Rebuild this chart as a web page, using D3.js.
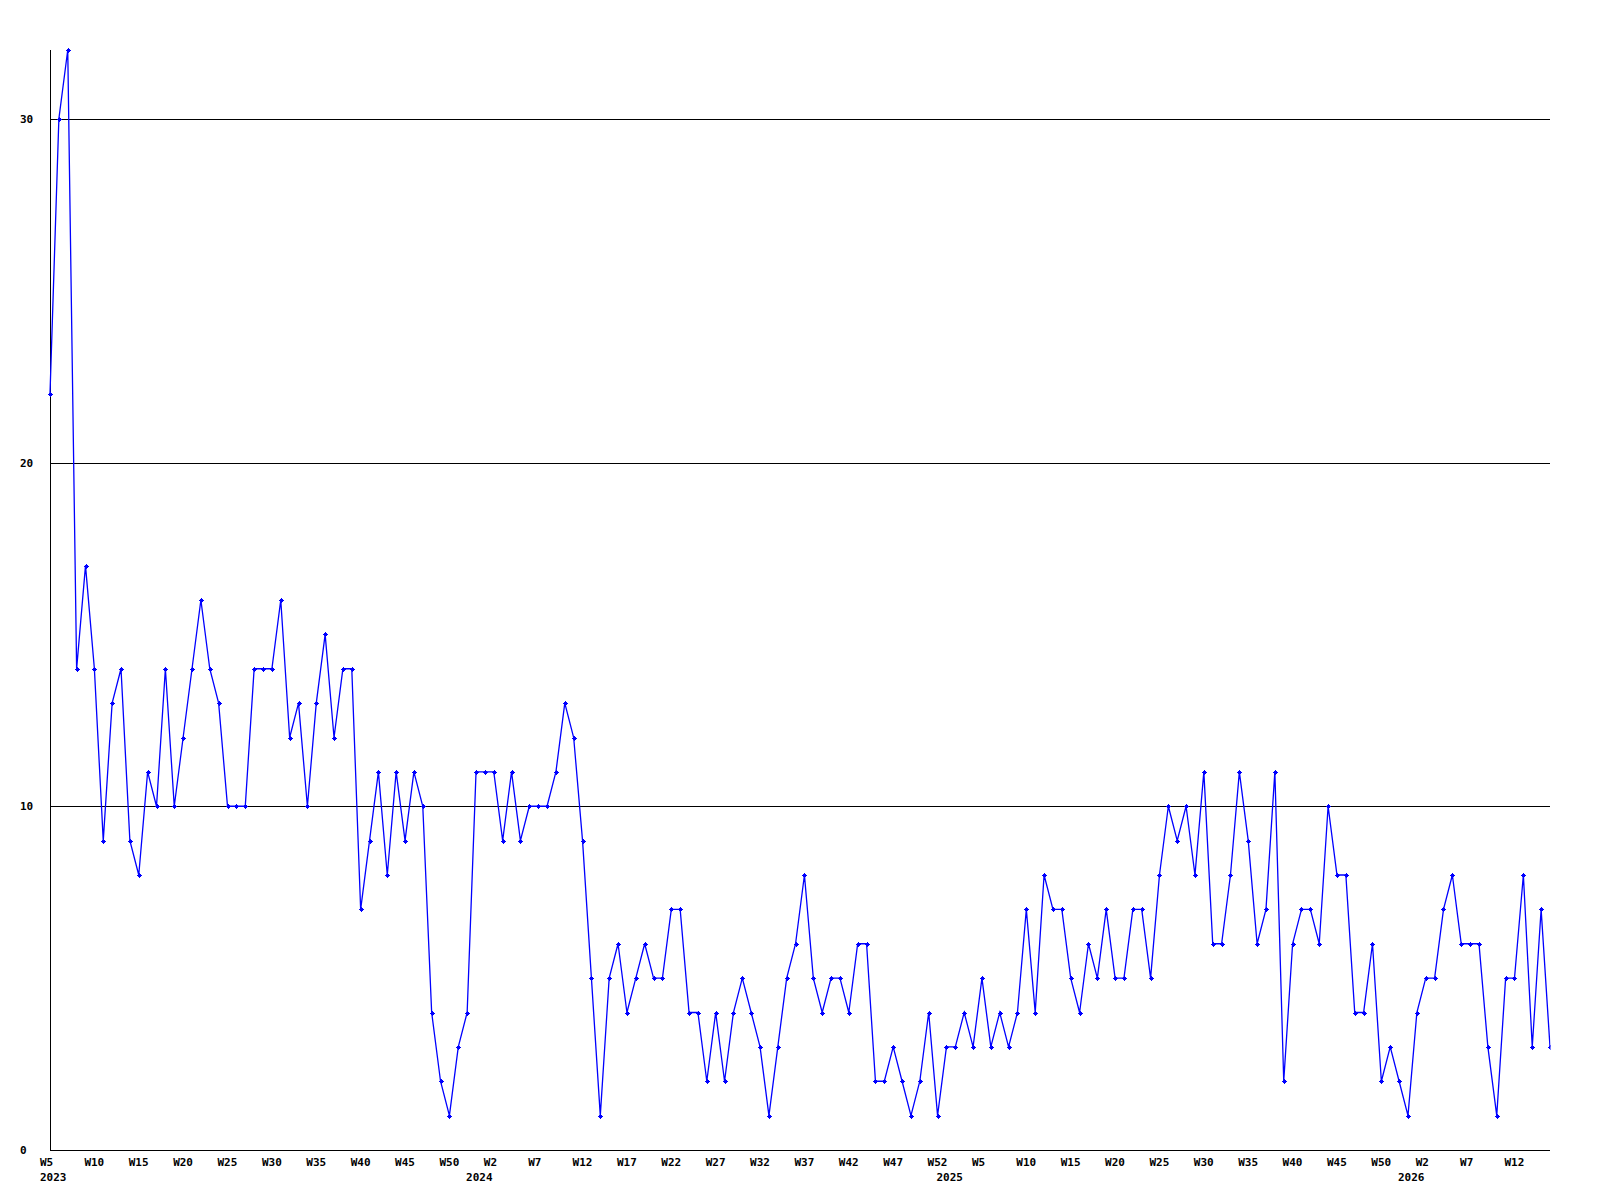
<!DOCTYPE html>
<html>
<head>
<meta charset="utf-8">
<script src="https://cdn.jsdelivr.net/npm/d3@7"></script>
<style>
  html, body { margin: 0; padding: 0; background: #fff; }
  svg { display: block; }
  text { font-family: "DejaVu Sans Mono", "Liberation Mono", monospace; font-weight: bold; font-size: 11px; fill: #000; }
</style>
</head>
<body>
<svg id="chart" width="1600" height="1200"></svg>
<script>
// Weekly counts, 2023 W5 .. 2026 W16 (one value per week, in order)
const values = [
  22, 30, 32, 14, 17, 14, 9, 13, 14, 9,
  8, 11, 10, 14, 10, 12, 14, 16, 14, 13,
  10, 10, 10, 14, 14, 14, 16, 12, 13, 10,
  13, 15, 12, 14, 14, 7, 9, 11, 8, 11,
  9, 11, 10, 4, 2, 1, 3, 4, 11, 11,
  11, 9, 11, 9, 10, 10, 10, 11, 13, 12,
  9, 5, 1, 5, 6, 4, 5, 6, 5, 5,
  7, 7, 4, 4, 2, 4, 2, 4, 5, 4,
  3, 1, 3, 5, 6, 8, 5, 4, 5, 5,
  4, 6, 6, 2, 2, 3, 2, 1, 2, 4,
  1, 3, 3, 4, 3, 5, 3, 4, 3, 4,
  7, 4, 8, 7, 7, 5, 4, 6, 5, 7,
  5, 5, 7, 7, 5, 8, 10, 9, 10, 8,
  11, 6, 6, 8, 11, 9, 6, 7, 11, 2,
  6, 7, 7, 6, 10, 8, 8, 4, 4, 6,
  2, 3, 2, 1, 4, 5, 5, 7, 8, 6,
  6, 6, 3, 1, 5, 5, 8, 3, 7, 3
];

// Week tick labels and the week (position in the series) they sit under
const weekTickLabels = ["W5","W10","W15","W20","W25","W30","W35","W40","W45","W50",
  "W2","W7","W12","W17","W22","W27","W32","W37","W42","W47","W52",
  "W5","W10","W15","W20","W25","W30","W35","W40","W45","W50",
  "W2","W7","W12"];
const weekTickPos = [0,5,10,15,20,25,30,35,40,45,
  50,55,60,65,70,75,80,85,90,95,100,
  105,110,115,120,125,130,135,140,145,150,
  155,160,165];

// Year labels and their positions
const yearLabels = ["2023","2024","2025","2026"];
const yearPos = [0, 48, 101, 153];

// Y axis ticks / grid lines
const yTicks = [0, 10, 20, 30];
const gridValues = [10, 20, 30];

const svg = d3.select("#chart");
const mLeft = 50, mRight = 1550, mTop = 50, mBottom = 1150;

const x = d3.scaleLinear().domain([0, values.length - 1]).range([mLeft, mRight]);
const y = d3.scaleLinear().domain([0, 32]).range([mBottom, mTop]);

// grid lines
svg.append("g").selectAll("line").data(gridValues).join("line")
  .attr("x1", mLeft).attr("x2", mRight)
  .attr("y1", d => Math.round(y(d)) + 0.5).attr("y2", d => Math.round(y(d)) + 0.5)
  .attr("stroke", "#000").attr("stroke-width", 1).attr("shape-rendering", "crispEdges");

// axes lines
svg.append("line").attr("x1", mLeft + 0.5).attr("x2", mLeft + 0.5).attr("y1", mTop).attr("y2", mBottom + 0.5)
  .attr("stroke", "#000").attr("shape-rendering", "crispEdges");
svg.append("line").attr("x1", mLeft).attr("x2", mRight).attr("y1", mBottom + 0.5).attr("y2", mBottom + 0.5)
  .attr("stroke", "#000").attr("shape-rendering", "crispEdges");

// y labels
svg.append("g").selectAll("text").data(yTicks).join("text")
  .attr("x", 20).attr("y", d => y(d) + 4)
  .text(d => d);

// week labels
svg.append("g").selectAll("text").data(weekTickLabels).join("text")
  .attr("x", (d, i) => x(weekTickPos[i]) - 10)
  .attr("y", 1166)
  .text(d => d);

// year labels
svg.append("g").selectAll("text").data(yearLabels).join("text")
  .attr("x", (d, i) => x(yearPos[i]) - 10)
  .attr("y", 1181)
  .text(d => d);

// clip for data
svg.append("clipPath").attr("id", "plotclip").append("rect")
  .attr("x", 0).attr("y", 0).attr("width", mRight + 0.5).attr("height", 1200);

const g = svg.append("g").attr("clip-path", "url(#plotclip)");

const line = d3.line().x((d, i) => x(i)).y(d => y(d));
g.append("path").datum(values)
  .attr("d", line)
  .attr("fill", "none").attr("stroke", "#0000ff").attr("stroke-width", 1.3);

// plus markers (5px plus with a solid 3px centre)
g.append("g").selectAll("path").data(values).join("path")
  .attr("transform", (d, i) => `translate(${Math.round(x(i))},${Math.round(y(d))})`)
  .attr("d", "M-2.5,-0.5H2.5V0.5H-2.5Z M-0.5,-2.5H0.5V2.5H-0.5Z M-1.5,-1.5H1.5V1.5H-1.5Z")
  .attr("fill", "#0000ff")
  .attr("shape-rendering", "crispEdges");
</script>
</body>
</html>
